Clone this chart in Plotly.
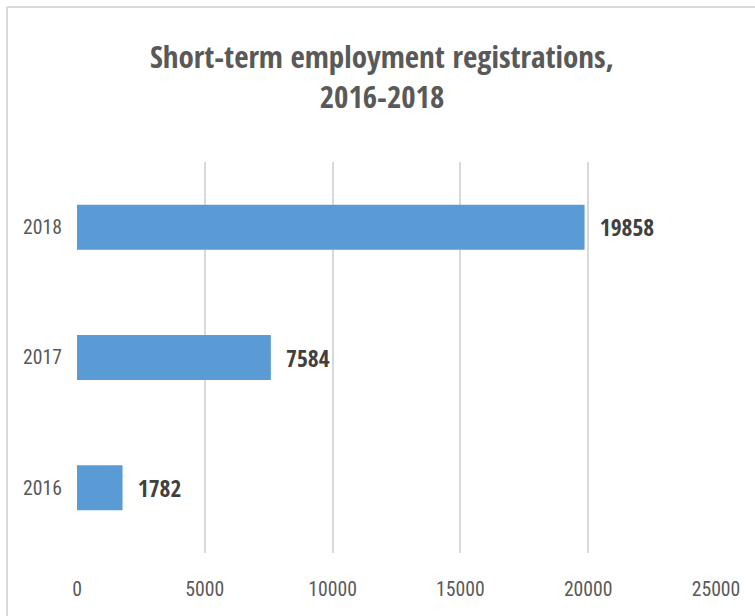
import plotly.graph_objects as go

years = ["2016", "2017", "2018"]
registrations = [1782, 7584, 19858]
x_ticks = [0, 5000, 10000, 15000, 20000, 25000]
title_lines = ["Short-term employment registrations,", "2016-2018"]

BOLD = "Open Sans Condensed, DejaVu Sans Condensed, sans-serif"
THIN = "Roboto Condensed, DejaVu Sans Condensed, sans-serif"

fig = go.Figure(
    go.Bar(
        y=years,
        x=registrations,
        orientation="h",
        marker=dict(color="#5B9BD5", line=dict(width=0)),
        text=[str(v) for v in registrations],
        texttemplate="\u00a0\u00a0%{text}",
        textposition="outside",
        textfont=dict(family=BOLD, size=23.5, color="#404040", weight="bold"),
        cliponaxis=False,
        width=0.345,
    )
)

W, H = 755, 616
ml, mr, mt, mb = 77, 39, 162, 63
pw, ph = W - ml - mr, H - mt - mb

fig.update_layout(
    width=W,
    height=H,
    margin=dict(l=ml, r=mr, t=mt, b=mb, pad=0),
    paper_bgcolor="white",
    plot_bgcolor="white",
    showlegend=False,
    font=dict(family=THIN, color="#595959"),
    title=dict(
        text="<br>".join(title_lines),
        x=382 / W,
        xanchor="center",
        xref="container",
        yref="container",
        y=1 - 68 / H,
        yanchor="top",
        font=dict(family=BOLD, size=31, color="#595959", weight="bold"),
    ),
    xaxis=dict(
        range=[0, 25000],
        tickvals=x_ticks,
        ticktext=[str(t) for t in x_ticks],
        showgrid=True,
        gridcolor="#D9D9D9",
        gridwidth=1.5,
        zeroline=False,
        showline=False,
        ticks="",
        ticklabelstandoff=22,
        tickfont=dict(family=THIN, size=19.7, color="#595959"),
    ),
    yaxis=dict(
        categoryorder="array",
        categoryarray=years,
        showgrid=False,
        zeroline=False,
        showline=False,
        ticks="",
        ticklabelstandoff=14,
        tickfont=dict(family=THIN, size=19.7, color="#595959"),
    ),
    shapes=[
        dict(type="line", xref="paper", yref="paper",
             x0=(7 - ml) / pw, x1=(W + 5 - ml) / pw,
             y0=(H - mb - 7) / ph, y1=(H - mb - 7) / ph,
             line=dict(color="#D9D9D9", width=2)),
        dict(type="line", xref="paper", yref="paper",
             x0=(7 - ml) / pw, x1=(7 - ml) / pw,
             y0=(H - mb - 7) / ph, y1=-(mb + 5) / ph,
             line=dict(color="#D9D9D9", width=2)),
    ],
)

fig.write_html("out.html", config={"displayModeBar": False},
               post_script="document.body.style.margin='0';")
